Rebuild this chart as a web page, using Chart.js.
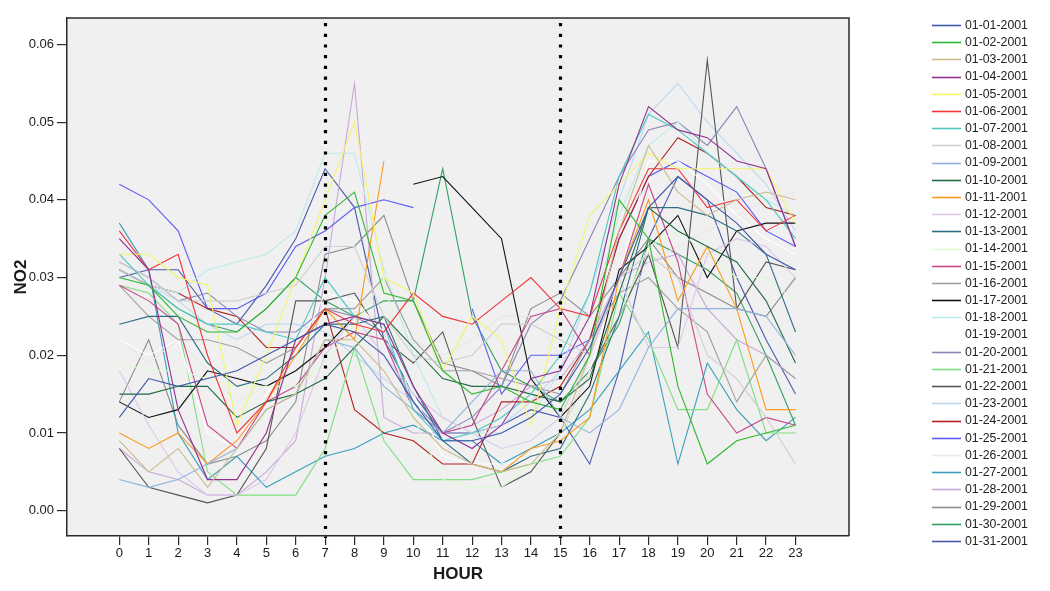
<!DOCTYPE html>
<html>
<head>
<meta charset="utf-8">
<script src="https://cdn.jsdelivr.net/npm/chart.js@4/dist/chart.umd.min.js"></script>
<style>
  html, body { margin: 0; padding: 0; background: #ffffff; }
  #wrap { width: 1050px; height: 591px; }
</style>
</head>
<body>
<div id="wrap"><canvas id="c" width="1050" height="591"></canvas></div>
<script>
// ---- data ----
const hours = [0,1,2,3,4,5,6,7,8,9,10,11,12,13,14,15,16,17,18,19,20,21,22,23];
const yTicks = [0.00, 0.01, 0.02, 0.03, 0.04, 0.05, 0.06];
const markHours = [7, 15];
const dates = ['01-01-2001','01-02-2001','01-03-2001','01-04-2001','01-05-2001','01-06-2001','01-07-2001','01-08-2001',
  '01-09-2001','01-10-2001','01-11-2001','01-12-2001','01-13-2001','01-14-2001','01-15-2001','01-16-2001','01-17-2001',
  '01-18-2001','01-19-2001','01-20-2001','01-21-2001','01-22-2001','01-23-2001','01-24-2001','01-25-2001','01-26-2001',
  '01-27-2001','01-28-2001','01-29-2001','01-30-2001','01-31-2001'];

const s0101 = [.012,.017,.016,.017,.018,.020,.022,.024,.023,.020,.014,.009,.009,.010,.012,.015,.021,.030,.039,.043,.040,.037,.033,.031];
const s0102 = [.030,.029,.025,.023,.023,.026,.030,.038,.041,.028,.027,.018,.015,.016,.014,.013,.020,.040,.035,.016,.006,.009,.010,.011];
const s0103 = [.009,.005,.008,.003,.008,.013,.015,.022,.022,.018,.012,.008,.006,.005,.006,.010,.020,.036,.047,.041,.038,.040,.041,.040];
const s0104 = [.035,.031,.013,.004,.004,.010,.022,.024,.025,.024,.016,.010,.008,.011,.017,.018,.025,.042,.052,.049,.048,.045,.044,.034];
const s0105 = [.033,.033,.030,.029,.011,.020,.030,.040,.050,.030,.028,.018,.025,.022,.011,.026,.038,.042,.046,.044,.044,.044,.044,.037];
const s0106 = [.036,.031,.033,.020,.010,.014,.021,.026,.024,.023,.028,.025,.024,.027,.030,.026,.025,.036,.044,.044,.039,.040,.036,.038];
const s0107 = [.033,.029,.026,.024,.024,.023,.022,.030,.025,.024,.013,.009,.010,.012,.015,.020,.028,.043,.051,.049,.046,.043,.040,.035];
const s0108 = [.032,.030,.027,.027,.027,.028,.029,.034,.034,.025,.020,.019,.020,.024,.024,.022,.020,.030,.033,.030,.020,.017,.012,.006];
const s0109 = [.004,.003,.004,.006,.008,.013,.015,.022,.021,.016,.013,.010,.014,.018,.018,.012,.010,.013,.021,.026,.026,.026,.025,.020];
const s0110 = [.015,.015,.016,.016,.012,.014,.015,.017,.021,.025,.021,.017,.016,.016,.015,.014,.017,.028,.039,.036,.034,.032,.027,.019];
const s0111 = [.010,.008,.010,.006,.009,.014,.020,.026,.022,.045,null,null,.006,.005,.008,.009,.012,.030,.040,.027,.034,.026,.013,.013];
const s0112 = [.018,.011,.005,.002,.002,.004,.010,.020,.025,.020,.015,.012,.010,.008,.009,.012,.020,.030,.021,.021,.033,.035,.034,.030];
const s0113 = [.024,.025,.025,.019,.016,.017,.020,.024,.024,.025,.016,.009,.006,.005,.007,.008,.015,.025,.039,.039,.038,.036,.033,.023];
const s0114 = [.019,.018,.018,.017,.016,.016,.016,.019,.024,.030,.012,.004,.003,.003,.006,.010,.015,.025,.034,.036,.033,.030,.030,.027];
const s0115 = [.029,.027,.024,.011,.008,.014,.016,.021,.023,.022,.013,.010,.011,.018,.025,.026,.020,.030,.042,.032,.015,.010,.012,.011];
const s0116 = [.029,.025,.022,.022,.021,.019,.021,.026,.026,.030,.022,.018,.018,.017,.016,.015,.022,.028,.030,.026,.023,.014,.020,.017];
const s0117 = [.014,.012,.013,.018,.017,.016,.018,.021,.025,null,.042,.043,.039,.035,.017,.012,.016,.031,.034,.038,.030,.036,.037,.037];
const s0118 = [.030,.029,.028,.031,.032,.033,.036,.046,.046,.031,.020,.012,.010,.010,.012,.018,.025,.038,.047,.050,.046,.043,.040,.038];
const s0119 = [.022,.020,.022,.010,.008,.015,.020,.028,.027,.023,.015,.007,.006,.006,.007,.010,.018,.030,.045,.045,.042,.038,.035,.033];
const s0120 = [.032,.030,.027,.028,.025,.023,.023,.026,.025,.023,.014,.010,.012,.016,.024,.027,.035,.043,.049,.050,.047,.052,.044,.034];
const s0121 = [.029,.028,.024,.005,.002,.002,.002,.008,.021,.009,.004,.004,.004,.005,.006,.007,.012,.028,.022,.013,.013,.022,.010,.010];
const s0122 = [.008,.003,.002,.001,.002,.008,.027,.027,.028,.022,.019,.023,.012,.003,.005,.010,.018,.025,.033,.021,.058,.026,.032,.031];
const s0123 = [.031,.029,.027,.024,.022,.024,.024,.023,.020,.017,.014,.009,.010,.011,.014,.018,.028,.040,.051,.055,.050,.046,.042,.036];
const s0124 = [.031,.029,.028,.026,.025,.021,.021,.026,.013,.010,.009,.006,.006,.014,.014,.016,.022,.035,.043,.048,.046,.043,.039,.038];
const s0125 = [.042,.040,.036,.026,.026,.028,.034,.036,.039,.040,.039,null,.026,.015,.020,.020,.022,.035,.043,.045,.043,.041,.036,.034];
const s0126 = [.022,.019,.022,.018,.014,.016,.020,.024,.023,.022,.022,.020,.022,.025,.025,.020,.019,.025,.032,.034,.036,.038,.040,.041];
const s0127 = [.037,.031,.010,.004,.007,.003,.005,.007,.008,.010,.011,.009,.009,.006,.008,.010,.013,.018,.023,.006,.019,.013,.009,.012];
const s0128 = [.008,.005,.004,.002,.002,.005,.009,.030,.055,.012,.010,.010,.011,.013,.016,.017,.022,.030,.032,.033,.026,.022,.020,.017];
const s0129 = [.014,.022,.011,.006,.007,.009,.014,.033,.034,.038,.027,.019,.018,.016,.026,.028,.025,.030,.035,.030,.028,.026,.025,.030];
const s0130 = [.031,.029,.026,.024,.023,.026,.030,.027,.025,.027,.027,.044,.025,.018,.016,.014,.018,.024,.035,.033,.031,.028,.020,.011];
const s0131 = [.030,.031,.031,.026,.024,.029,.035,.044,.039,.022,.015,.010,.010,.011,.013,.012,.006,.018,.035,.043,.040,.030,.022,.015];

const seriesList = [s0101,s0102,s0103,s0104,s0105,s0106,s0107,s0108,s0109,s0110,s0111,s0112,s0113,s0114,s0115,s0116,
  s0117,s0118,s0119,s0120,s0121,s0122,s0123,s0124,s0125,s0126,s0127,s0128,s0129,s0130,s0131];

// ---- styles ----
const colors = ['#3e58ac','#2db82d','#cbbb8c','#952f8f','#f5f56a','#ef3338','#4cc7c4','#cfcfcf',
  '#8fb3dd','#236a45','#fb9a1c','#dcc8ea','#2d6e84','#dcfad0','#c8468a','#a0a0a0','#111111',
  '#bdeaea','#ffffff','#8a87b8','#80df80','#555555','#bcd8f0','#b22222','#5b5bf5','#e8e8e8',
  '#3a9ebc','#c9a9d9','#8c8c8c','#33a060','#4a5aa8'];

const FONT = "'Liberation Sans', Arial, sans-serif";

const datasets = seriesList.map((s, i) => ({
  label: dates[i],
  data: hours.map((h, k) => ({ x: h, y: s[k] })),
  borderColor: colors[i],
  backgroundColor: colors[i],
  borderWidth: 1.1,
  pointRadius: 0,
  pointHoverRadius: 0,
  fill: false,
  tension: 0,
  spanGaps: false
}));

const framePlugin = {
  id: 'frame',
  beforeDraw(chart) {
    const { ctx, chartArea: a } = chart;
    ctx.save();
    ctx.fillStyle = '#ffffff';
    ctx.fillRect(0, 0, chart.width, chart.height);
    ctx.fillStyle = '#f0f0f0';
    ctx.fillRect(a.left, a.top, a.right - a.left, a.bottom - a.top);
    ctx.restore();
  },
  afterDatasetsDraw(chart) {
    const { ctx, chartArea: a, scales } = chart;
    ctx.save();
    // dotted reference lines
    ctx.strokeStyle = '#000000';
    ctx.lineWidth = 3.2;
    ctx.setLineDash([3.2, 7.5]);
    markHours.forEach(h => {
      const x = Math.round(scales.x.getPixelForValue(h)) + 0.5;
      ctx.beginPath();
      ctx.moveTo(x, a.top + 5);
      ctx.lineTo(x, a.bottom + 2);
      ctx.stroke();
    });
    ctx.setLineDash([]);
    // top and right frame
    ctx.strokeStyle = '#2a2a2a';
    ctx.lineWidth = 1.5;
    ctx.beginPath();
    ctx.moveTo(a.left, a.top);
    ctx.lineTo(a.right, a.top);
    ctx.lineTo(a.right, a.bottom);
    ctx.stroke();
    ctx.restore();
  },
  afterDraw(chart) {
    const { ctx } = chart;
    ctx.save();
    ctx.font = '12.3px ' + FONT;
    ctx.textBaseline = 'middle';
    ctx.textAlign = 'left';
    chart.data.datasets.forEach((ds, i) => {
      const y = 25 + i * 17.2;
      ctx.strokeStyle = ds.borderColor;
      ctx.lineWidth = 1.6;
      ctx.beginPath();
      ctx.moveTo(932, Math.round(y) + 0.5);
      ctx.lineTo(961, Math.round(y) + 0.5);
      ctx.stroke();
      ctx.fillStyle = '#222222';
      ctx.fillText(ds.label, 965, y + 0.5);
    });
    ctx.restore();
  }
};

new Chart(document.getElementById('c'), {
  type: 'line',
  data: { datasets },
  plugins: [framePlugin],
  options: {
    responsive: false,
    animation: false,
    devicePixelRatio: 1,
    events: [],
    layout: { padding: { left: 0, right: 201, top: 18, bottom: 0 } },
    plugins: { legend: { display: false }, tooltip: { enabled: false } },
    scales: {
      x: {
        type: 'linear',
        min: -1.78,
        max: 24.82,
        afterBuildTicks: s => { s.ticks = hours.map(v => ({ value: v })); },
        afterFit: s => { s.height = 55; },
        ticks: {
          autoSkip: false,
          maxRotation: 0,
          padding: 1,
          color: '#1a1a1a',
          font: { family: FONT, size: 13 },
          callback: v => String(v)
        },
        grid: { drawOnChartArea: false, drawTicks: true, tickLength: 9, color: '#2a2a2a', lineWidth: 1.2 },
        border: { display: true, color: '#2a2a2a', width: 1.5 },
        title: { display: true, text: 'HOUR', color: '#1a1a1a', font: { family: FONT, size: 17, weight: 'bold' }, padding: { top: 0, bottom: 6 } }
      },
      y: {
        type: 'linear',
        min: -0.00326,
        max: 0.0634,
        afterBuildTicks: s => { s.ticks = yTicks.map(v => ({ value: v })); },
        afterFit: s => { s.width = 67; },
        ticks: {
          padding: 3,
          color: '#1a1a1a',
          font: { family: FONT, size: 13 },
          callback: v => Number(v).toFixed(2)
        },
        grid: { drawOnChartArea: false, drawTicks: true, tickLength: 10, color: '#2a2a2a', lineWidth: 1.2 },
        border: { display: true, color: '#2a2a2a', width: 1.5 },
        title: { display: true, text: 'NO2', color: '#1a1a1a', font: { family: FONT, size: 17, weight: 'bold' }, padding: { top: 11, bottom: 0 } }
      }
    }
  }
});
</script>
</body>
</html>
